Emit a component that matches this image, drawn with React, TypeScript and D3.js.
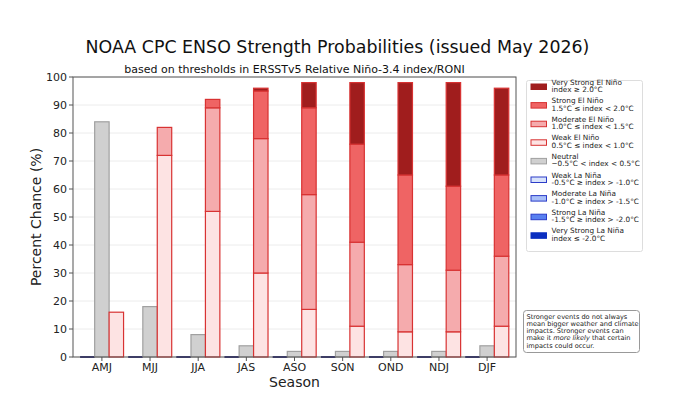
import React from "react";
import * as d3 from "d3";

const seasons = ["AMJ", "MJJ", "JJA", "JAS", "ASO", "SON", "OND", "NDJ", "DJF"];
const vStrongLaNina = [0, 0, 0, 0, 0, 0, 0, 0, 0];
const strongLaNina = [0, 0, 0, 0, 0, 0, 0, 0, 0];
const moderateLaNina = [0, 0, 0, 0, 0, 0, 0, 0, 0];
const weakLaNina = [0, 0, 0, 0, 0, 0, 0, 0, 0];
const neutral = [84, 18, 8, 4, 2, 2, 2, 2, 4];
const weakElNino = [16, 72, 52, 30, 17, 11, 9, 9, 11];
const moderateElNino = [0, 10, 37, 48, 41, 30, 24, 22, 25];
const strongElNino = [0, 0, 3, 17, 31, 35, 32, 30, 29];
const vStrongElNino = [0, 0, 0, 1, 9, 22, 33, 37, 31];
const yTicks = [0, 10, 20, 30, 40, 50, 60, 70, 80, 90, 100];

const legendItems = [
  { l1: "Very Strong El Niño", l2: "index ≥ 2.0°C", fill: "#a01d1d", stroke: "#a01d1d" },
  { l1: "Strong El Niño", l2: "1.5°C ≤ index < 2.0°C", fill: "#ef6464", stroke: "#d83232" },
  { l1: "Moderate El Niño", l2: "1.0°C ≤ index < 1.5°C", fill: "#f5abad", stroke: "#d83232" },
  { l1: "Weak El Niño", l2: "0.5°C ≤ index < 1.0°C", fill: "#fde3e3", stroke: "#d83232" },
  { l1: "Neutral", l2: "−0.5°C < index < 0.5°C", fill: "#d0d0d0", stroke: "#a0a0a0" },
  { l1: "Weak La Niña", l2: "-0.5°C ≥ index > -1.0°C", fill: "#d8e3fb", stroke: "#2c3cc8" },
  { l1: "Moderate La Niña", l2: "-1.0°C ≥ index > -1.5°C", fill: "#a8bff8", stroke: "#2c3cc8" },
  { l1: "Strong La Niña", l2: "-1.5°C ≥ index > -2.0°C", fill: "#5880f0", stroke: "#2c3cc8" },
  { l1: "Very Strong La Niña", l2: "index ≤ -2.0°C", fill: "#0b2fc0", stroke: "#0b2fc0" },
];

const noteLines = [
  ["Stronger events do not always"],
  ["mean bigger weather and climate"],
  ["impacts. Stronger events can"],
  ["make it ", "more likely", " that certain"],
  ["impacts could occur."],
];

export default function App() {
  const left = 73, right = 516, top = 77, bottom = 357;
  const x = d3.scaleLinear().domain([-0.6, 8.6]).range([left, right]);
  const y = d3.scaleLinear().domain([0, 100]).range([bottom, top]);
  const bw = 0.3;
  const font = "DejaVu Sans, sans-serif";

  const elSeries = [
    { vals: weakElNino, fill: "#fde3e3", stroke: "#d83232" },
    { vals: moderateElNino, fill: "#f5abad", stroke: "#d83232" },
    { vals: strongElNino, fill: "#ef6464", stroke: "#d83232" },
    { vals: vStrongElNino, fill: "#a01d1d", stroke: "#d83232" },
  ];
  const laSeries = [weakLaNina, moderateLaNina, strongLaNina, vStrongLaNina];

  const rects: React.ReactNode[] = [];
  seasons.forEach((s, i) => {
    let baseL = 0;
    laSeries.forEach((vals, k) => {
      const v = vals[i];
      const x0 = x(i - 1.5 * bw), x1 = x(i - 0.5 * bw);
      if (v === 0) {
        rects.push(<line key={`la${i}${k}`} x1={x0} x2={x1} y1={y(baseL)} y2={y(baseL)} stroke="#1a1a6e" strokeWidth={1} />);
      } else {
        rects.push(<rect key={`la${i}${k}`} x={x0} width={x1 - x0} y={y(baseL + v)} height={y(baseL) - y(baseL + v)} fill={legendItems[5 + k].fill} stroke="#2c3cc8" />);
      }
      baseL += v;
    });
    const nx0 = x(i - 0.5 * bw), nx1 = x(i + 0.5 * bw);
    rects.push(<rect key={`n${i}`} x={nx0} width={nx1 - nx0} y={y(neutral[i])} height={y(0) - y(neutral[i])} fill="#d0d0d0" stroke="#a0a0a0" strokeWidth={1.2} />);
    let base = 0;
    const ex0 = x(i + 0.5 * bw), ex1 = x(i + 1.5 * bw);
    elSeries.forEach((sr, k) => {
      const v = sr.vals[i];
      if (v > 0) {
        rects.push(<rect key={`e${i}${k}`} x={ex0} width={ex1 - ex0} y={y(base + v)} height={y(base) - y(base + v)} fill={sr.fill} stroke={sr.stroke} strokeWidth={1.2} />);
      }
      base += v;
    });
  });

  return (
    <svg width={681} height={394} style={{ position: "absolute", left: 0, top: 0, background: "#fff" }} fontFamily={font}>
      <rect x={0} y={0} width={681} height={394} fill="#fff" />
      {yTicks.map((t) => (
        <line key={`g${t}`} x1={left} x2={right} y1={y(t)} y2={y(t)} stroke="#ececec" strokeWidth={1} />
      ))}
      {rects}
      <rect x={left} y={top} width={right - left} height={bottom - top} fill="none" stroke="#555" strokeWidth={1} />
      {yTicks.map((t) => (
        <g key={`yt${t}`}>
          <line x1={left - 4} x2={left} y1={y(t)} y2={y(t)} stroke="#555" />
          <text x={left - 6} y={y(t)} dy="0.35em" textAnchor="end" fontSize={11} fill="#222">{t}</text>
        </g>
      ))}
      {seasons.map((s, i) => (
        <g key={`xt${s}`}>
          <line x1={x(i)} x2={x(i)} y1={bottom} y2={bottom + 4} stroke="#555" />
          <text x={x(i)} y={bottom + 14} textAnchor="middle" fontSize={11} fill="#222">{s}</text>
        </g>
      ))}
      <text x={(left + right) / 2} y={387} textAnchor="middle" fontSize={14} fill="#222">Season</text>
      <text transform={`translate(41,${(top + bottom) / 2}) rotate(-90)`} textAnchor="middle" fontSize={14} fill="#222">Percent Chance (%)</text>
      <text x={337.5} y={52.5} textAnchor="middle" fontSize={17.4} fill="#111">NOAA CPC ENSO Strength Probabilities (issued May 2026)</text>
      <text x={(left + right) / 2} y={73} textAnchor="middle" fontSize={11} fill="#111">based on thresholds in ERSSTv5 Relative Niño-3.4 index/RONI</text>
      <rect x={526.5} y={80.5} width={116} height={171} fill="#fff" stroke="#ddd" rx={2} />
      {legendItems.map((it, k) => {
        const yy = 84 + k * 18.6;
        return (
          <g key={`lg${k}`}>
            <rect x={531} y={yy} width={15.5} height={5.5} fill={it.fill} stroke={it.stroke} strokeWidth={1} />
            <text x={551.5} y={yy + 0.5} fontSize={7.3} fill="#222">{it.l1}</text>
            <text x={551.5} y={yy + 8} fontSize={7.3} fill="#222">{it.l2}</text>
          </g>
        );
      })}
      <rect x={523.5} y={310.5} width={116} height={42} fill="#fff" stroke="#999" rx={3} />
      {noteLines.map((ln, k) => (
        <text key={`nt${k}`} x={526.5} y={318.5 + k * 7.3} fontSize={6.6} fill="#222">
          {ln.map((p, j) => (
            <tspan key={j} fontStyle={p === "more likely" ? "italic" : "normal"}>{p}</tspan>
          ))}
        </text>
      ))}
    </svg>
  );
}
